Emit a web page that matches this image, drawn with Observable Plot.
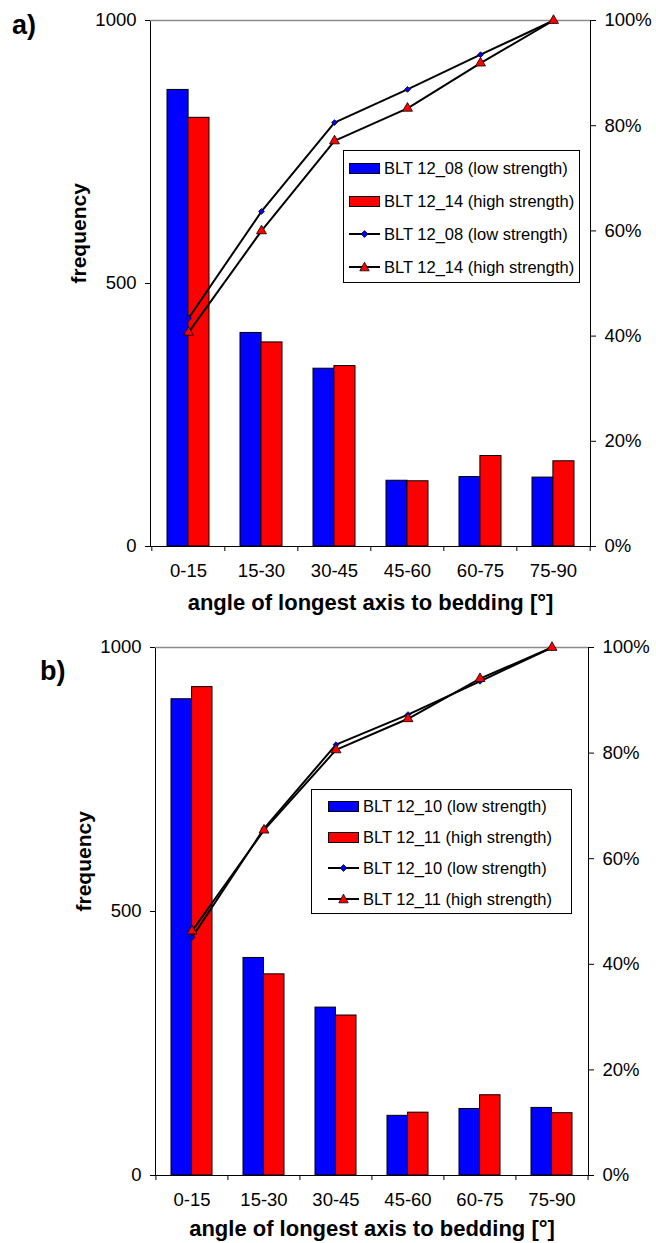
<!DOCTYPE html>
<html>
<head>
<meta charset="utf-8">
<script src="https://cdn.jsdelivr.net/npm/d3@7"></script>
<script src="https://cdn.jsdelivr.net/npm/@observablehq/plot@0.6"></script>
<style>
  body { margin: 0; background: #fff; font-family: 'Liberation Sans', Arial, sans-serif; color: #000; }
  #page { position: relative; width: 656px; height: 1243px; overflow: hidden; }
  .panel { position: absolute; left: 0; }
  .tag { position: absolute; font-weight: bold; font-size: 27px; line-height: 1; }
  .legend { position: absolute; border: 1px solid #000; background: #fff; box-sizing: border-box; }
  .row { position: absolute; left: 0; height: 20px; display: flex; align-items: center;
         font-size: 16.5px; white-space: nowrap; }
  .row svg { flex: none; }
</style>
</head>
<body>
<div id="page"></div>
<script>
// Angle classes of the longest grain axis relative to bedding
const categories = ["0-15", "15-30", "30-45", "45-60", "60-75", "75-90"];

// Panel a) frequencies and cumulative percentages
const freqA_08 = [868, 406, 338, 125, 132, 131];
const freqA_14 = [815, 388, 343, 124, 172, 162];
const cumA_08 = [43.4, 63.7, 80.6, 86.9, 93.5, 100];
const cumA_14 = [40.7, 60.0, 77.1, 83.3, 91.9, 100];

// Panel b) frequencies and cumulative percentages
const freqB_10 = [902, 412, 318, 113, 126, 128];
const freqB_11 = [925, 381, 303, 119, 152, 118];
const cumB_10 = [45.1, 65.7, 81.6, 87.3, 93.6, 100];
const cumB_11 = [46.3, 65.4, 80.6, 86.5, 94.1, 100];

// Axis ticks
const freqTicks = [0, 500, 1000];
const pctTicks = [0, 20, 40, 60, 80, 100];

const xTitle = "angle of longest axis to bedding [°]";
const yTitle = "frequency";

const BLUE = "#0000ff";
const RED = "#ff0000";
const FONT = "'Liberation Sans', Arial, sans-serif";
const PAD_INNER = 0.43;

function panel({width, height, marginTop, marginBottom, marginLeft, marginRight,
                freqLow, freqHigh, cumLow, cumHigh, titleOffset}) {
  const rows = categories.map((c, i) => ({
    cat: c, low: freqLow[i], high: freqHigh[i],
    // cumulative percentage shares the frequency axis: 100 % == 1000
    cumLow: cumLow[i] * 10, cumHigh: cumHigh[i] * 10
  }));
  const frameW = width - marginLeft - marginRight;
  const step = frameW / categories.length;
  const half = step * (1 - PAD_INNER) / 2;

  return Plot.plot({
    width, height, marginTop, marginBottom, marginLeft, marginRight,
    style: {fontFamily: FONT, fontSize: "18.5px", color: "#000", background: "#fff", overflow: "visible"},
    x: {type: "band", domain: categories, paddingInner: PAD_INNER, paddingOuter: PAD_INNER / 2, label: null},
    y: {domain: [0, 1000], label: null},
    marks: [
      Plot.barY(rows, {x: "cat", y: "low", fill: BLUE, stroke: "#000", strokeWidth: 1, insetRight: half}),
      Plot.barY(rows, {x: "cat", y: "high", fill: RED, stroke: "#000", strokeWidth: 1, insetLeft: half}),
      Plot.frame({stroke: "#000"}),
      Plot.ruleY([1000], {stroke: "#8c8c8c", strokeWidth: 1.5}),
      Plot.line(rows, {x: "cat", y: "cumLow", stroke: "#000", strokeWidth: 2}),
      Plot.line(rows, {x: "cat", y: "cumHigh", stroke: "#000", strokeWidth: 2}),
      Plot.dot(rows, {x: "cat", y: "cumLow", symbol: "diamond2", r: 2.6, fill: BLUE, stroke: "#000", strokeWidth: 0.8}),
      Plot.dot(rows, {x: "cat", y: "cumHigh", symbol: "triangle", r: 3.7, fill: RED, stroke: "#000", strokeWidth: 0.8}),
      // category boundary ticks
      Plot.axisX({ticks: categories, tickSize: 5, tickFormat: () => "", dx: -step / 2, label: null}),
      Plot.axisX({ticks: [categories[categories.length - 1]], tickSize: 5, tickFormat: () => "", dx: step / 2, label: null}),
      // category labels
      Plot.axisX({tickSize: 0, tickPadding: 17, label: null}),
      Plot.axisY({ticks: freqTicks, tickFormat: d => String(d), tickSize: 5, tickPadding: 9, label: null}),
      Plot.axisY({anchor: "right", ticks: pctTicks.map(p => p * 10), tickFormat: d => `${d / 10}%`,
                  tickSize: 5, tickPadding: 9, label: null}),
      Plot.text([xTitle], {frameAnchor: "bottom", lineAnchor: "middle", dy: titleOffset,
                           fontWeight: "bold", fontSize: 22}),
      Plot.text([yTitle], {frameAnchor: "left", rotate: -90, dx: -71, fontWeight: "bold", fontSize: 21})
    ]
  });
}

function swatch(kind, color) {
  const ns = "http://www.w3.org/2000/svg";
  const s = document.createElementNS(ns, "svg");
  s.setAttribute("width", 32); s.setAttribute("height", 14);
  if (kind === "bar") {
    s.innerHTML = `<rect x="0.5" y="2.5" width="30" height="10" fill="${color}" stroke="#000"/>`;
  } else if (kind === "diamond") {
    s.innerHTML = `<line x1="0" x2="31" y1="7" y2="7" stroke="#000" stroke-width="2"/>` +
      `<path d="M15.5,3.6L18.9,7L15.5,10.4L12.1,7Z" fill="${color}" stroke="#000" stroke-width="0.8"/>`;
  } else {
    s.innerHTML = `<line x1="0" x2="31" y1="7" y2="7" stroke="#000" stroke-width="2"/>` +
      `<path d="M15.5,2.2L20.2,10.8L10.8,10.8Z" fill="${color}" stroke="#000" stroke-width="0.8"/>`;
  }
  return s;
}

function legend(parent, {left, top, width, height, rowTops, swatchLeft, textGap, items}) {
  const box = document.createElement("div");
  box.className = "legend";
  Object.assign(box.style, {left: left + "px", top: top + "px", width: width + "px", height: height + "px"});
  items.forEach((it, i) => {
    const row = document.createElement("div");
    row.className = "row";
    row.style.top = (rowTops[i] - 10) + "px";
    row.style.left = swatchLeft + "px";
    const sw = swatch(it.kind, it.color);
    sw.style.marginRight = textGap + "px";
    row.appendChild(sw);
    const t = document.createElement("span");
    t.textContent = it.label;
    row.appendChild(t);
    box.appendChild(row);
  });
  parent.appendChild(box);
}

const page = document.getElementById("page");

// Panel a)
const plotA = panel({width: 656, height: 615, marginTop: 20, marginBottom: 69, marginLeft: 150, marginRight: 66,
  freqLow: freqA_08, freqHigh: freqA_14, cumLow: cumA_08, cumHigh: cumA_14, titleOffset: 56});
plotA.classList.add("panel");
plotA.style.top = "0px";
page.appendChild(plotA);

// Panel b)
const plotB = panel({width: 656, height: 628, marginTop: 32, marginBottom: 68, marginLeft: 155, marginRight: 68,
  freqLow: freqB_10, freqHigh: freqB_11, cumLow: cumB_10, cumHigh: cumB_11, titleOffset: 53});
plotB.classList.add("panel");
plotB.style.top = "615px";
page.appendChild(plotB);

// Panel tags
const tagA = document.createElement("div");
tagA.className = "tag"; tagA.textContent = "a)";
Object.assign(tagA.style, {left: "12px", top: "12px"});
page.appendChild(tagA);
const tagB = document.createElement("div");
tagB.className = "tag"; tagB.textContent = "b)";
Object.assign(tagB.style, {left: "40px", top: "658px"});
page.appendChild(tagB);

// Legends
legend(page, {left: 343, top: 150, width: 237, height: 133, rowTops: [17, 50, 83, 116], swatchLeft: 5, textGap: 3,
  items: [
    {kind: "bar", color: BLUE, label: "BLT 12_08 (low strength)"},
    {kind: "bar", color: RED, label: "BLT 12_14 (high strength)"},
    {kind: "diamond", color: BLUE, label: "BLT 12_08 (low strength)"},
    {kind: "triangle", color: RED, label: "BLT 12_14 (high strength)"}
  ]});
legend(page, {left: 311, top: 789, width: 261, height: 125, rowTops: [16, 47, 78, 109], swatchLeft: 16, textGap: 3,
  items: [
    {kind: "bar", color: BLUE, label: "BLT 12_10 (low strength)"},
    {kind: "bar", color: RED, label: "BLT 12_11 (high strength)"},
    {kind: "diamond", color: BLUE, label: "BLT 12_10 (low strength)"},
    {kind: "triangle", color: RED, label: "BLT 12_11 (high strength)"}
  ]});
</script>
</body>
</html>
